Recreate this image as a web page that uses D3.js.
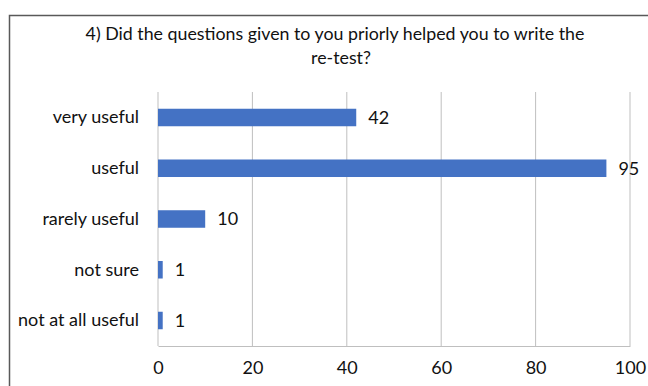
<!DOCTYPE html>
<html>
<head>
<meta charset="utf-8">
<script src="https://cdn.jsdelivr.net/npm/d3@7"></script>
<style>
  html, body { margin: 0; padding: 0; background: #fff; }
  svg { display: block; font-family: Lato, "Open Sans", sans-serif; }
</style>
</head>
<body>
<svg id="chart" width="648" height="386"></svg>
<script>
// Survey responses: usefulness of the questions handed out before the re-test
const categories = ["very useful", "useful", "rarely useful", "not sure", "not at all useful"];
const counts = [42, 95, 10, 1, 1];
const tickValues = [0, 20, 40, 60, 80, 100];
const titleLines = ["4) Did the questions given to you priorly helped you to write the", "re-test?"];

const svg = d3.select("#chart");
const margin = { top: 92, left: 158 };
const plotRight = 630, plotBottom = 346;
const labelFont = "Lato, 'Open Sans', sans-serif";
const textColor = "#111";

// chart frame (runs off the right and bottom edges)
svg.append("rect")
  .attr("x", 9.5).attr("y", 15.5)
  .attr("width", 700).attr("height", 400)
  .attr("fill", "#fff")
  .attr("stroke", "#595959")
  .attr("stroke-width", 1.5);

// title
const title = svg.append("g").attr("fill", textColor).attr("font-size", 17.8);
title.append("text")
  .attr("x", 335).attr("y", 40)
  .attr("text-anchor", "middle")
  .text(titleLines[0]);
title.append("text")
  .attr("x", 341).attr("y", 64)
  .attr("text-anchor", "middle")
  .text(titleLines[1]);

const x = d3.scaleLinear().domain([0, 100]).range([margin.left, plotRight]);
const y = d3.scaleBand().domain(categories).range([margin.top, plotBottom]).paddingInner(0.655).paddingOuter(0.33);

// vertical gridlines
svg.append("g")
  .selectAll("line")
  .data(tickValues)
  .join("line")
  .attr("x1", d => x(d)).attr("x2", d => x(d))
  .attr("y1", margin.top).attr("y2", plotBottom)
  .attr("stroke", "#bfbfbf")
  .attr("stroke-width", 1);

// bottom axis
const xAxis = svg.append("g")
  .attr("transform", `translate(0,${plotBottom})`)
  .call(d3.axisBottom(x).tickValues(tickValues).tickSize(0).tickPadding(15));
xAxis.select(".domain").attr("stroke", "#bfbfbf");
xAxis.selectAll("text")
  .attr("font-size", 18)
  .attr("font-family", labelFont)
  .attr("fill", textColor);

// category axis labels
const yAxis = svg.append("g")
  .attr("transform", `translate(${margin.left},0)`)
  .call(d3.axisLeft(y).tickSize(0).tickPadding(19));
yAxis.select(".domain").remove();
yAxis.selectAll("text")
  .attr("font-size", 18)
  .attr("font-family", labelFont)
  .attr("fill", textColor);

// bars
const rows = categories.map((c, i) => ({ c, v: counts[i] }));
svg.append("g")
  .selectAll("rect")
  .data(rows)
  .join("rect")
  .attr("x", x(0))
  .attr("y", d => y(d.c))
  .attr("width", d => x(d.v) - x(0))
  .attr("height", y.bandwidth())
  .attr("fill", "#4472c4");

// value labels
svg.append("g")
  .selectAll("text")
  .data(rows)
  .join("text")
  .attr("x", d => x(d.v) + 12)
  .attr("y", d => y(d.c) + y.bandwidth() / 2)
  .attr("dy", "0.35em")
  .attr("font-size", 18)
  .attr("fill", textColor)
  .text(d => d.v);
</script>
</body>
</html>
